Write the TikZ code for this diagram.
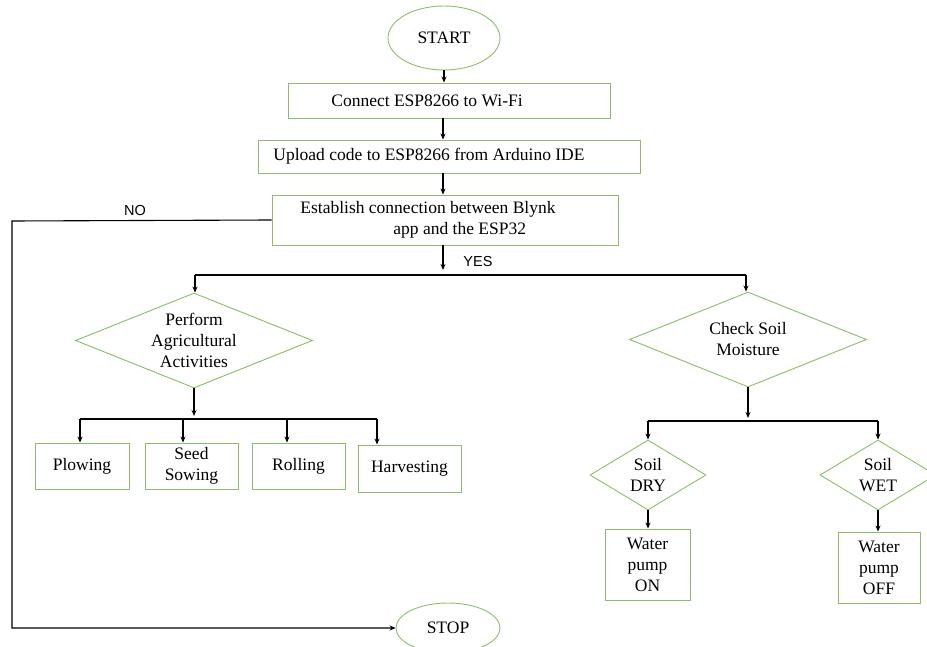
\documentclass[tikz,border=0pt]{standalone}
\usepackage{fontspec}
\setmainfont{Liberation Serif}
\newfontfamily\labelfont{Liberation Sans}
\usetikzlibrary{shapes.geometric,arrows.meta}
\definecolor{boxgreen}{RGB}{140,190,105}
\begin{document}
\begin{tikzpicture}[x=1pt,y=-1pt,
  txt/.style={font=\fontsize{17.5}{21}\selectfont, text=black, align=center, inner sep=0pt},
  box/.style={txt, draw=boxgreen, line width=0.9pt, rectangle},
  dia/.style={txt, draw=boxgreen, line width=0.9pt, diamond},
  term/.style={txt, draw=boxgreen, line width=0.9pt, ellipse},
  lbl/.style={font=\labelfont\fontsize{14.5}{17}\selectfont, text=black, inner sep=0pt},
  conn/.style={draw=black, line width=1.1pt},
  arr/.style={conn, -{Stealth[length=6pt,width=5pt]}}]
\useasboundingbox (0,0) rectangle (927,647);
\clip (0,0) rectangle (927,647);

% terminals
\node[term, minimum width=112pt, minimum height=64pt] (start) at (444,38) {START};
\node[term, minimum width=104pt, minimum height=50pt] (stop) at (448,628) {STOP};

% process boxes
\node[box, minimum width=322pt, minimum height=35pt] (b1) at (449,100.5) {Connect ESP8266 to Wi-Fi\hspace*{44pt}};
\node[box, minimum width=382pt, minimum height=33pt] (b2) at (449,156.5) {Upload code to ESP8266 from Arduino IDE\hspace*{40pt}};
\node[box, minimum width=346pt, minimum height=50pt, align=left] (b3) at (445,220) {Establish connection between Blynk\hspace*{34pt}\\\hspace*{93pt}app and the ESP32};

% decisions
\node[dia, aspect=2.6, minimum width=237pt, minimum height=95pt] (d1) at (194,340.5) {Perform\\Agricultural\\Activities};
\node[dia, aspect=2.5, minimum width=237pt, minimum height=95pt] (d2) at (748,339.5) {Check Soil\\Moisture};
\node[dia, aspect=1.65, minimum width=116pt, minimum height=70pt] (dry) at (648,475) {Soil\\DRY};
\node[dia, aspect=1.65, minimum width=116pt, minimum height=70pt] (wet) at (878,475) {Soil\\WET};

% activity boxes
\node[box, minimum width=94pt, minimum height=46pt] (plow) at (82,466) {Plowing};
\node[box, minimum width=93pt, minimum height=46pt] (seed) at (191.5,466) {Seed\\Sowing};
\node[box, minimum width=93pt, minimum height=46pt] (roll) at (298.5,466) {Rolling};
\node[box, minimum width=103pt, minimum height=47pt] (harv) at (409.5,468.5) {Harvesting};

% pump boxes
\node[box, minimum width=85pt, minimum height=71pt] (on) at (647.5,564.5) {Water\\pump\\ON};
\node[box, minimum width=82pt, minimum height=71pt] (off) at (879,567.5) {Water\\pump\\OFF};

% helper coordinates
\coordinate (sp1) at (443,275);
\coordinate (sp1l) at (195,275);
\coordinate (sp1r) at (746,275);
\coordinate (sp2) at (194,419);
\coordinate (sp2a) at (80,419);
\coordinate (sp2b) at (183,419);
\coordinate (sp2c) at (287,419);
\coordinate (sp2d) at (377,419);
\coordinate (sp3) at (748,421);
\coordinate (sp3l) at (648,421);
\coordinate (sp3r) at (878,421);
\coordinate (nocorner) at (12,221);

% main chain
\draw[arr] (start.south -| b1.north) ++(-5,0) -- ([xshift=-5pt]b1.north);
\draw[arr] ([xshift=-6pt]b1.south) -- ([xshift=-6pt]b2.north);
\draw[arr] ([xshift=-6pt]b2.south) -- (b3.north -| sp1);
\draw[arr] (b3.south -| sp1) -- ([yshift=5pt]sp1);

% NO branch
\draw[arr] (b3.west) -- (nocorner) -- (nocorner |- stop) -- (stop.west);
\node[lbl] (no) at (135,211) {NO};
\node[lbl] (yes) at (478,262) {YES};

% YES split
\draw[conn] (sp1l) -- (sp1r);
\draw[arr] (sp1l) -- (d1.north -| sp1l);
\draw[arr] (sp1r) -- (d2.north -| sp1r);

% agricultural activities
\draw[arr] (d1.south) -- ([yshift=3pt]sp2);
\draw[conn] (sp2a) -- (sp2d);
\draw[arr] (sp2a) -- (plow.north -| sp2a);
\draw[arr] (sp2b) -- (seed.north -| sp2b);
\draw[arr] (sp2c) -- (roll.north -| sp2c);
\draw[arr] (sp2d) -- (harv.north -| sp2d);

% soil moisture
\draw[arr] (d2.south) -- ([yshift=3pt]sp3);
\draw[conn] (sp3l) -- (sp3r);
\draw[arr] (sp3l) -- (dry.north);
\draw[arr] (sp3r) -- (wet.north);
\draw[arr] (dry.south) -- (on.north -| dry.south);
\draw[arr] (wet.south) -- (off.north -| wet.south);
\end{tikzpicture}
\end{document}
